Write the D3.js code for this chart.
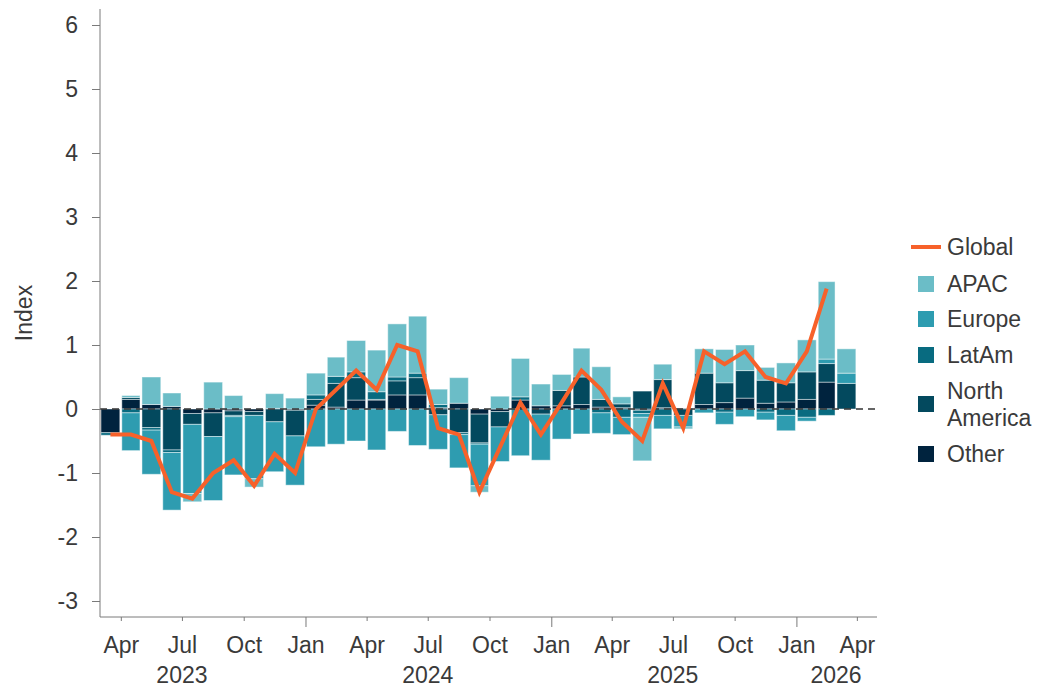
<!DOCTYPE html>
<html>
<head>
<meta charset="utf-8">
<script src="https://cdn.jsdelivr.net/npm/d3@7"></script>
<style>
  html, body { margin: 0; padding: 0; background: #fff; }
  svg { display: block; font-family: "Liberation Sans", Arial, sans-serif; }
</style>
</head>
<body>
<svg id="chart" width="1037" height="688"></svg>
<script>
// Monthly observations, March 2023 – March 2026
const months = d3.timeMonths(new Date(2023, 2, 1), new Date(2026, 3, 1));

// Regional contributions to the index
const other        = [-0.37, 0.15, 0.07, 0.04, -0.07, -0.06, -0.03, -0.04, 0.01, -0.02, 0.06, 0.03, 0.14, 0.14, 0.22, 0.22, 0.02, 0.09, -0.08, -0.04, 0.14, 0.05, 0.05, 0.07, 0.03, 0.02, -0.02, 0.02, 0.01, 0.07, 0.10, 0.17, 0.09, 0.11, 0.15, 0.42, 0.00];
const northAmerica = [0.00, 0.03, -0.29, -0.64, -0.17, -0.37, -0.07, -0.06, -0.20, -0.40, 0.09, 0.37, 0.35, 0.01, 0.22, 0.27, -0.09, -0.37, -0.45, -0.24, 0.00, -0.08, 0.24, 0.43, 0.12, 0.06, 0.28, 0.44, -0.10, 0.49, 0.31, 0.43, 0.36, 0.30, 0.43, 0.29, 0.40];
const latAm        = [-0.04, -0.06, -0.04, -0.04, 0.00, 0.00, -0.02, 0.00, 0.00, 0.00, 0.07, 0.11, 0.09, 0.12, 0.06, 0.07, 0.05, -0.03, -0.02, 0.00, 0.05, 0.00, 0.00, 0.00, -0.06, -0.13, -0.05, -0.10, 0.00, 0.00, -0.05, 0.00, -0.05, -0.10, -0.13, -0.10, 0.00];
const europe       = [0.00, -0.59, -0.69, -0.90, -1.08, -1.00, -0.91, -0.99, -0.78, -0.77, -0.59, -0.55, -0.50, -0.64, -0.35, -0.57, -0.54, -0.52, -0.65, -0.54, -0.73, -0.72, -0.47, -0.39, -0.32, -0.27, -0.06, -0.21, -0.18, -0.06, -0.19, -0.12, -0.12, -0.24, -0.06, 0.07, 0.16];
const apac         = [0.00, 0.03, 0.43, 0.21, -0.13, 0.42, 0.21, -0.13, 0.23, 0.17, 0.34, 0.30, 0.49, 0.65, 0.83, 0.89, 0.24, 0.40, -0.10, 0.20, 0.60, 0.34, 0.25, 0.45, 0.51, 0.11, -0.68, 0.24, -0.03, 0.38, 0.52, 0.40, 0.20, 0.31, 0.50, 1.21, 0.38];

// Global index (March 2023 – February 2026)
const globalIndex  = [-0.4, -0.4, -0.5, -1.3, -1.4, -1.0, -0.8, -1.2, -0.7, -1.0, 0.0, 0.3, 0.6, 0.3, 1.0, 0.9, -0.3, -0.4, -1.3, -0.6, 0.1, -0.4, 0.1, 0.6, 0.3, -0.2, -0.5, 0.4, -0.3, 0.9, 0.7, 0.9, 0.5, 0.4, 0.9, 1.88];

const yTicks = [-3, -2, -1, 0, 1, 2, 3, 4, 5, 6];
const monthTickNames = ["Jan", "Apr", "Jul", "Oct"];
const yearLabels = [
  { text: "2023", at: new Date(2023, 6, 1) },
  { text: "2024", at: new Date(2024, 6, 1) },
  { text: "2025", at: new Date(2025, 6, 1) },
  { text: "2026", at: new Date(2026, 2, 1) }
];

// Stacking order, from the zero line outward
const keys = ["Other", "North America", "LatAm", "Europe", "APAC"];
const colors = {
  "APAC": "#6bbdc7",
  "Europe": "#2e9cb0",
  "LatAm": "#086b80",
  "North America": "#03495e",
  "Other": "#00233e"
};
const globalColor = "#f7612a";

const rows = months.map((m, i) => ({
  date: m,
  "Other": other[i],
  "North America": northAmerica[i],
  "LatAm": latAm[i],
  "Europe": europe[i],
  "APAC": apac[i]
}));

const svg = d3.select("#chart");
const plotLeft = 100, plotRight = 877, plotTop = 9, plotBottom = 617;
const textColor = "#3a3a3a", axisColor = "#7a7a7a";
const fontSize = 23;

const x = d3.scaleTime()
  .domain([new Date(2023, 2, 1), new Date(2026, 4, 1)])
  .range([plotLeft, plotRight]);
const y = d3.scaleLinear()
  .domain([-3.25, 6.25])
  .range([plotBottom, plotTop]);

const mid = d => new Date((d.getTime() + d3.timeMonth.offset(d, 1).getTime()) / 2);

// Stacked diverging bars
const series = d3.stack().keys(keys).offset(d3.stackOffsetDiverging)(rows);
const barG = svg.append("g");
series.forEach(s => {
  barG.append("g")
    .attr("fill", colors[s.key])
    .selectAll("rect")
    .data(s.filter(d => d[0] !== d[1]))
    .join("rect")
    .attr("x", d => x(d.data.date) + 1)
    .attr("width", d => x(d3.timeMonth.offset(d.data.date, 1)) - x(d.data.date) - 2)
    .attr("y", d => y(Math.max(d[0], d[1])))
    .attr("height", d => Math.abs(y(d[0]) - y(d[1])))
    .attr("stroke", "rgba(255,255,255,0.45)")
    .attr("stroke-width", 1);
});

// Dashed zero line
svg.append("line")
  .attr("x1", plotLeft).attr("x2", plotRight)
  .attr("y1", y(0)).attr("y2", y(0))
  .attr("stroke", "#333")
  .attr("stroke-width", 1.6)
  .attr("stroke-dasharray", "7,5");

// Global line
svg.append("path")
  .datum(globalIndex)
  .attr("fill", "none")
  .attr("stroke", globalColor)
  .attr("stroke-width", 4)
  .attr("stroke-linejoin", "miter")
  .attr("d", d3.line()
    .x((d, i) => x(mid(months[i])))
    .y(d => y(d)));

// Y axis
const yAxis = svg.append("g")
  .attr("transform", `translate(${plotLeft},0)`)
  .call(d3.axisLeft(y).tickValues(yTicks).tickSize(8).tickPadding(14)
    .tickFormat(d => d3.format("d")(d).replace("−", "-")));
yAxis.select(".domain").attr("stroke", axisColor).attr("d", `M0,${plotTop}V${plotBottom}`);
yAxis.selectAll(".tick line").attr("stroke", axisColor);
yAxis.selectAll(".tick text").attr("fill", textColor).attr("font-size", fontSize)
  .attr("font-family", "Liberation Sans, Arial, sans-serif");

// X axis with quarterly ticks; January ticks are longer
const quarterTicks = d3.timeMonths(new Date(2023, 3, 1), new Date(2026, 4, 1), 3);
const xAxis = svg.append("g")
  .attr("transform", `translate(0,${plotBottom})`)
  .call(d3.axisBottom(x).tickValues(quarterTicks).tickSize(4).tickPadding(16)
    .tickFormat(d => monthTickNames[Math.floor(d.getMonth() / 3)]));
xAxis.select(".domain").attr("stroke", axisColor).attr("d", `M${plotLeft},0H${plotRight}`);
xAxis.selectAll(".tick line").attr("stroke", axisColor)
  .attr("y2", d => d.getMonth() === 0 ? 10 : 4);
xAxis.selectAll(".tick text").attr("fill", textColor).attr("font-size", fontSize)
  .attr("font-family", "Liberation Sans, Arial, sans-serif");

svg.append("g").selectAll("text")
  .data(yearLabels)
  .join("text")
  .attr("x", d => x(d.at))
  .attr("y", 683)
  .attr("text-anchor", "middle")
  .attr("fill", textColor)
  .attr("font-size", fontSize)
  .text(d => d.text);

// Y axis title
svg.append("text")
  .attr("transform", `translate(32,${(y(-3.25) + y(6.25)) / 2}) rotate(-90)`)
  .attr("text-anchor", "middle")
  .attr("fill", textColor)
  .attr("font-size", fontSize)
  .text("Index");

// Legend
const legend = svg.append("g");
const lx = 918, tx = 947;
legend.append("line")
  .attr("x1", 911).attr("x2", 941).attr("y1", 247).attr("y2", 247)
  .attr("stroke", globalColor).attr("stroke-width", 4);
legend.append("text").attr("x", tx).attr("y", 255).attr("fill", textColor)
  .attr("font-size", fontSize).text("Global");

const legendItems = [
  { key: "APAC", cy: 284, lines: ["APAC"] },
  { key: "Europe", cy: 319, lines: ["Europe"] },
  { key: "LatAm", cy: 355, lines: ["LatAm"] },
  { key: "North America", cy: 404, lines: ["North", "America"] },
  { key: "Other", cy: 454, lines: ["Other"] }
];
legendItems.forEach(item => {
  legend.append("rect")
    .attr("x", lx).attr("y", item.cy - 8)
    .attr("width", 16).attr("height", 16)
    .attr("fill", colors[item.key]);
  const t = legend.append("text").attr("fill", textColor).attr("font-size", fontSize);
  const n = item.lines.length;
  item.lines.forEach((line, j) => {
    t.append("tspan")
      .attr("x", tx)
      .attr("y", item.cy + 8 + (j - (n - 1) / 2) * 27)
      .text(line);
  });
});
</script>
</body>
</html>
